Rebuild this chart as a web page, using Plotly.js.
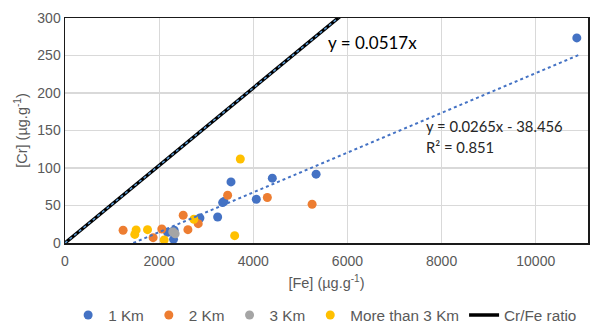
<!DOCTYPE html>
<html>
<head>
<meta charset="utf-8">
<script src="https://cdn.plot.ly/plotly-3.0.1.min.js"></script>
<style>html,body{margin:0;padding:0;background:#fff;}#chart{width:590px;height:323px;}</style>
</head>
<body>
<div id="chart"></div>
<script>
// Data
const fe1Km = [3526, 4404, 5334, 3377, 3349, 4064, 2866, 3243, 2178, 2319, 2306, 10872];
const cr1Km = [81.5, 86.5, 91.8, 55.2, 53.9, 58.4, 33.4, 34.7, 14.3, 17.0, 4.9, 273.5];
const fe2Km = [3455, 4298, 5249, 2511, 2830, 2611, 1234, 2057, 1872];
const cr2Km = [63.7, 60.6, 51.7, 37.0, 25.8, 17.8, 17.0, 18.7, 7.1];
const fe3Km = [2340, 2290];
const cr3Km = [12.4, 15.0];
const feMore3Km = [3724, 2738, 1511, 1483, 1753, 2106, 3604];
const crMore3Km = [112.0, 31.7, 17.5, 11.5, 17.8, 4.0, 9.8];
const ratioSlope = 0.0517;
const ratioX = [0, 11110];
const trendSlope = 0.0265;
const trendIntercept = -38.456;
const trendX = [1451, 10950];
const seriesNames = ["1 Km", "2 Km", "3 Km", "More than 3 Km", "Cr/Fe ratio"];

const colors = ["#4472C4", "#ED7D31", "#A5A5A5", "#FFC000"];
const font = "Liberation Sans, Arial, sans-serif";
const eqFont = "Lato, Liberation Sans, sans-serif";

function pts(x, y, name, color) {
  return {x: x, y: y, name: name, type: "scatter", mode: "markers",
    marker: {color: color, size: 9}, cliponaxis: true};
}

const traces = [
  pts(fe1Km, cr1Km, seriesNames[0], colors[0]),
  pts(fe2Km, cr2Km, seriesNames[1], colors[1]),
  pts(fe3Km, cr3Km, seriesNames[2], colors[2]),
  pts(feMore3Km, crMore3Km, seriesNames[3], colors[3]),
  {x: ratioX, y: ratioX.map(v => ratioSlope * v), name: seriesNames[4], type: "scatter", mode: "lines",
    line: {color: "#000000", width: 3.5}},
  {x: ratioX, y: ratioX.map(v => ratioSlope * v), showlegend: false, type: "scatter", mode: "lines",
    line: {color: "#5B9BD5", width: 1.5, dash: "dot"}, hoverinfo: "skip"},
  {x: trendX, y: trendX.map(v => trendSlope * v + trendIntercept), showlegend: false, type: "scatter", mode: "lines",
    line: {color: "#4472C4", width: 2, dash: "dot"}, hoverinfo: "skip"}
];

const axisCommon = {
  showgrid: true, gridcolor: "#d9d9d9", gridwidth: 1.3,
  showline: true, mirror: true, linecolor: "#1a1a1a", linewidth: 1.5,
  zeroline: false, ticks: "", tickformat: "d",
  tickfont: {family: font, size: 14, color: "#595959"}
};

const layout = {
  width: 590, height: 323,
  margin: {l: 65, r: 2, t: 18, b: 80, autoexpand: false},
  paper_bgcolor: "#ffffff", plot_bgcolor: "#ffffff",
  showlegend: true,
  font: {family: font, color: "#595959"},
  xaxis: Object.assign({}, axisCommon, {
    range: [0, 11110], dtick: 2000, tick0: 0, ticklabelstandoff: 5,
    title: {text: "[Fe] (µg.g<sup>-1</sup>)", font: {family: font, size: 14.5, color: "#595959"}, standoff: 9}
  }),
  yaxis: Object.assign({}, axisCommon, {
    range: [0, 300], dtick: 50, tick0: 0,
    title: {text: "[Cr] (µg.g<sup>-1</sup>)", font: {family: font, size: 14.5, color: "#595959"}, standoff: 6}
  }),
  legend: {orientation: "h", x: 0.006, xanchor: "left", y: -0.32, yanchor: "middle",
    font: {family: font, size: 15.3, color: "#595959"}, bgcolor: "rgba(0,0,0,0)"},
  annotations: [
    {x: 6526, y: 267, xref: "x", yref: "y", text: "y = 0.0517x", showarrow: false,
      font: {family: eqFont, size: 17, color: "#000000"}},
    {x: 7632, y: 155.7, xref: "x", yref: "y", text: "y = 0.0265x - 38.456", showarrow: false, xanchor: "left",
      font: {family: eqFont, size: 14.8, color: "#262626"}},
    {x: 7632, y: 128.5, xref: "x", yref: "y", text: "R² = 0.851", showarrow: false, xanchor: "left",
      font: {family: eqFont, size: 14.8, color: "#262626"}}
  ]
};

Plotly.newPlot("chart", traces, layout, {displayModeBar: false, staticPlot: true});
</script>
</body>
</html>
